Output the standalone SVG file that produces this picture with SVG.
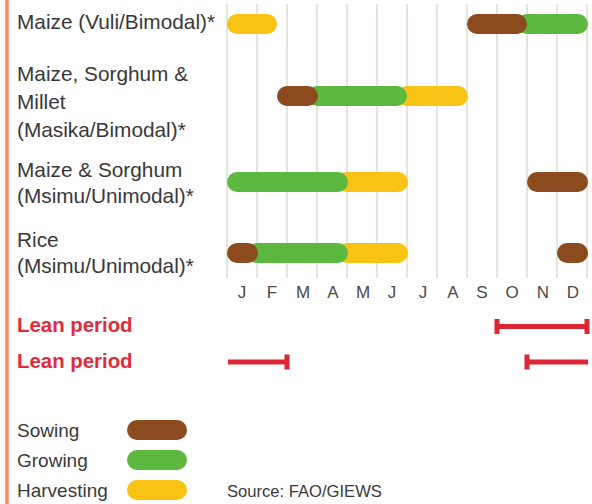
<svg xmlns="http://www.w3.org/2000/svg" width="592" height="504" viewBox="0 0 592 504">
<style>
.lbl{font-family:"Liberation Sans",Arial,sans-serif;font-size:20.8px;fill:#383838}
.mon{font-family:"Liberation Sans",Arial,sans-serif;font-size:17px;fill:#4a4a4a;text-anchor:middle}
.lean{font-family:"Liberation Sans",Arial,sans-serif;font-size:20.4px;font-weight:bold;fill:#de2c3c}
.leg{font-family:"Liberation Sans",Arial,sans-serif;font-size:19px;fill:#3a3a3a}
.src{font-family:"Liberation Sans",Arial,sans-serif;font-size:16.6px;fill:#3a3a3a}
.grid line{stroke:#dfe8da;stroke-width:2}
.sow{fill:#8b4b1f}
.grow{fill:#5db83f}
.harv{fill:#f8c315}
.lp{stroke:#dc2535;stroke-width:5;fill:none}
</style>
<rect width="592" height="504" fill="#ffffff"/>
<line x1="7" y1="0" x2="7" y2="504" stroke="#f08c62" stroke-width="3.5"/>
<g class="grid" id="grid">
<line x1="227" y1="4" x2="227" y2="278"/>
<line x1="257" y1="4" x2="257" y2="278"/>
<line x1="287" y1="4" x2="287" y2="278"/>
<line x1="317" y1="4" x2="317" y2="278"/>
<line x1="347" y1="4" x2="347" y2="278"/>
<line x1="377" y1="4" x2="377" y2="278"/>
<line x1="407" y1="4" x2="407" y2="278"/>
<line x1="437" y1="4" x2="437" y2="278"/>
<line x1="467" y1="4" x2="467" y2="278"/>
<line x1="497" y1="4" x2="497" y2="278"/>
<line x1="527" y1="4" x2="527" y2="278"/>
<line x1="557" y1="4" x2="557" y2="278"/>
<line x1="587" y1="4" x2="587" y2="278"/>
</g>
<g id="row1">
<text class="lbl" x="17" y="29">Maize (Vuli/Bimodal)*</text>
<rect class="harv" x="227" y="14" width="50" height="20" rx="10"/>
<rect class="grow" x="517" y="14" width="71" height="20" rx="10"/>
<rect class="sow" x="467" y="14" width="60" height="20" rx="10"/>
</g>
<g id="row2">
<text class="lbl" x="17" y="81">Maize, Sorghum &amp;</text>
<text class="lbl" x="17" y="109">Millet</text>
<text class="lbl" x="17" y="137">(Masika/Bimodal)*</text>
<rect class="harv" x="397" y="86" width="71" height="20" rx="10"/>
<rect class="grow" x="307" y="86" width="100" height="20" rx="10"/>
<rect class="sow" x="277" y="86" width="41" height="20" rx="10"/>
</g>
<g id="row3">
<text class="lbl" x="17" y="177">Maize &amp; Sorghum</text>
<text class="lbl" x="17" y="203">(Msimu/Unimodal)*</text>
<rect class="harv" x="337" y="172" width="71" height="20" rx="10"/>
<rect class="grow" x="227" y="172" width="121" height="20" rx="10"/>
<rect class="sow" x="527" y="172" width="61" height="20" rx="10"/>
</g>
<g id="row4">
<text class="lbl" x="17" y="247">Rice</text>
<text class="lbl" x="17" y="273">(Msimu/Unimodal)*</text>
<rect class="harv" x="337" y="243" width="71" height="20" rx="10"/>
<rect class="grow" x="247" y="243" width="101" height="20" rx="10"/>
<rect class="sow" x="227" y="243" width="31" height="20" rx="10"/>
<rect class="sow" x="557" y="243" width="31" height="20" rx="10"/>
</g>
<g id="months">
<text class="mon" x="242" y="298">J</text>
<text class="mon" x="272" y="298">F</text>
<text class="mon" x="303" y="298">M</text>
<text class="mon" x="333" y="298">A</text>
<text class="mon" x="363" y="298">M</text>
<text class="mon" x="392" y="298">J</text>
<text class="mon" x="423" y="298">J</text>
<text class="mon" x="453" y="298">A</text>
<text class="mon" x="482" y="298">S</text>
<text class="mon" x="512" y="298">O</text>
<text class="mon" x="543" y="298">N</text>
<text class="mon" x="573" y="298">D</text>
</g>
<g id="lean1">
<text class="lean" x="17" y="332">Lean period</text>
<path class="lp" d="M497,326.5 H587 M497,319 V334 M587,319 V334"/>
</g>
<g id="lean2">
<text class="lean" x="17" y="368">Lean period</text>
<path class="lp" d="M228,362 H287 M287,354.5 V369.5 M527,362 H588 M527,354.5 V369.5"/>
</g>
<g id="legend">
<text class="leg" x="17" y="437">Sowing</text>
<rect class="sow" x="127" y="420" width="60" height="20" rx="10"/>
<text class="leg" x="17" y="467">Growing</text>
<rect class="grow" x="127" y="450" width="60" height="20" rx="10"/>
<text class="leg" x="17" y="497">Harvesting</text>
<rect class="harv" x="127" y="480" width="60" height="20" rx="10"/>
</g>
<text class="src" x="227" y="497">Source: FAO/GIEWS</text>
</svg>
